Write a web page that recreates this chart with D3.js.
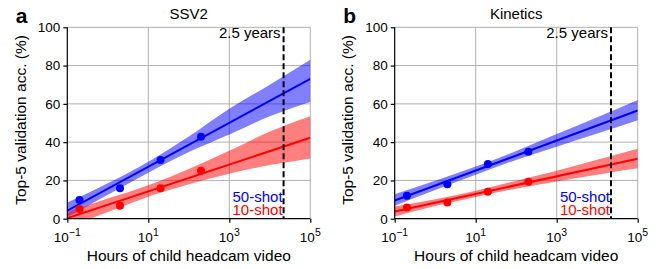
<!DOCTYPE html>
<html><head><meta charset="utf-8">
<script src="https://cdn.jsdelivr.net/npm/d3@7"></script>
<style>
body{margin:0;background:#fff}
text{font-family:"Liberation Sans",Arial,Helvetica,sans-serif}
</style></head>
<body><svg id="c" width="659" height="269"></svg>
<script>
// ---- data ----
const xHours = [0.2, 2, 20, 200];
const ssv2_50 = [9.8, 15.9, 30.7, 42.8];
const ssv2_10 = [5.1, 6.8, 15.9, 25.1];
const kin_50 = [12.0, 18.0, 28.6, 35.0];
const kin_10 = [5.9, 8.4, 14.1, 19.3];

const fitHours = [0.1, 1e5];
const ssv2_50_fit = [4.2, 73.0];
const ssv2_10_fit = [0.3, 42.3];
const kin_50_fit = [9.5, 56.5];
const kin_10_fit = [3.8, 31.3];

const bandHours = [0.1, 1, 10, 100, 1e3, 1e4, 1e5];
const ssv2_50_lo = [0.8, 12.5, 24.0, 34.8, 44.0, 53.5, 61.0];
const ssv2_50_hi = [8.4, 18.5, 29.8, 43.0, 57.5, 70.0, 83.0];
const ssv2_10_lo = [-4.5, 3.5, 11.5, 18.0, 23.5, 28.0, 31.5];
const ssv2_10_hi = [3.5, 10.5, 17.5, 26.0, 35.5, 45.5, 53.5];
const kin_50_lo = [6.8, 15.0, 23.0, 30.7, 37.6, 44.5, 51.5];
const kin_50_hi = [12.8, 19.8, 27.3, 35.4, 44.2, 53.0, 62.0];
const kin_10_lo = [1.2, 6.6, 11.4, 15.7, 19.5, 23.0, 26.3];
const kin_10_hi = [6.4, 10.2, 14.6, 19.8, 25.0, 30.8, 36.5];

const xTickExp = [-1, 1, 3, 5];
const yTicks = [0, 20, 40, 60, 80, 100];
const markerHours = 21900; // 2.5 years
const panelTitles = ["SSV2", "Kinetics"];
const panelLetters = ["a", "b"];
const seriesNames = ["50-shot", "10-shot"];

const panels = [
  {title: panelTitles[0], letter: panelLetters[0], left: 67.3,
   s: [{y: ssv2_50, fit: ssv2_50_fit, lo: ssv2_50_lo, hi: ssv2_50_hi, c: "#0000ff"},
       {y: ssv2_10, fit: ssv2_10_fit, lo: ssv2_10_lo, hi: ssv2_10_hi, c: "#ff0000"}]},
  {title: panelTitles[1], letter: panelLetters[1], left: 394.7,
   s: [{y: kin_50, fit: kin_50_fit, lo: kin_50_lo, hi: kin_50_hi, c: "#0000ff"},
       {y: kin_10, fit: kin_10_fit, lo: kin_10_lo, hi: kin_10_hi, c: "#ff0000"}]}
];

const svg = d3.select("#c");
const W = 243, plotTop = 27.3, plotBottom = 218.7;

panels.forEach((p, pi) => {
  const x = d3.scaleLog().domain([0.1, 1e5]).range([p.left, p.left + W]);
  const y = d3.scaleLinear().domain([0, 100]).range([plotBottom, plotTop]);
  const g = svg.append("g");
  const cid = "clip" + pi;
  svg.append("clipPath").attr("id", cid).append("rect")
    .attr("x", p.left).attr("y", plotTop).attr("width", W).attr("height", plotBottom - plotTop);

  // grid
  g.selectAll(".gy").data(yTicks.slice(1)).join("line")
    .attr("x1", p.left).attr("x2", p.left + W)
    .attr("y1", d => y(d)).attr("y2", d => y(d))
    .attr("stroke", "#b0b0b0").attr("stroke-width", 1);
  g.selectAll(".gx").data(xTickExp.slice(1)).join("line")
    .attr("x1", d => x(Math.pow(10, d))).attr("x2", d => x(Math.pow(10, d)))
    .attr("y1", plotTop).attr("y2", plotBottom)
    .attr("stroke", "#b0b0b0").attr("stroke-width", 1);

  const cg = g.append("g").attr("clip-path", `url(#${cid})`);
  p.s.forEach(s => {
    const area = d3.area().curve(d3.curveMonotoneX)
      .x((d, i) => x(bandHours[i])).y0((d, i) => y(s.lo[i])).y1((d, i) => y(s.hi[i]));
    cg.append("path").datum(bandHours).attr("d", area)
      .attr("fill", s.c).attr("fill-opacity", 0.5);
  });
  p.s.forEach(s => {
    cg.append("line")
      .attr("x1", x(fitHours[0])).attr("x2", x(fitHours[1]))
      .attr("y1", y(s.fit[0])).attr("y2", y(s.fit[1]))
      .attr("stroke", s.c).attr("stroke-width", 2);
    g.selectAll(null).data(s.y).join("circle")
      .attr("cx", (d, i) => x(xHours[i])).attr("cy", d => y(d))
      .attr("r", 4).attr("fill", s.c);
  });

  // dashed marker
  const mx = x(markerHours);
  g.append("line").attr("x1", mx).attr("x2", mx).attr("y1", plotTop).attr("y2", plotBottom)
    .attr("stroke", "#000").attr("stroke-width", 2).attr("stroke-dasharray", "6,3");
  g.append("text").attr("x", mx - 3).attr("y", 37.5).attr("text-anchor", "end")
    .attr("font-size", 15).text("2.5 years");

  // legend texts
  seriesNames.forEach((n, i) => {
    g.append("text").attr("x", mx - 1).attr("y", 201.7 + i * 13.3)
      .attr("text-anchor", "end").attr("font-size", 15)
      .attr("fill", p.s[i].c).text(n);
  });

  // axes
  const ya = d3.axisLeft(y).tickValues(yTicks).tickSize(4).tickPadding(3);
  const yg = g.append("g").attr("transform", `translate(${p.left},0)`).call(ya);
  yg.select(".domain").attr("stroke-width", 1.2).attr("d", `M0,${plotBottom}V${plotTop}`);
  yg.selectAll("line").attr("stroke-width", 1.2);
  yg.selectAll("text").attr("font-size", 13.5).attr("fill", "#000");

  const xa = d3.axisBottom(x).tickValues(xTickExp.map(e => Math.pow(10, e))).tickSize(4).tickFormat("");
  const xg = g.append("g").attr("transform", `translate(0,${plotBottom})`).call(xa);
  xg.select(".domain").attr("stroke-width", 1.2).attr("d", `M${p.left},0H${p.left + W}`);
  xg.selectAll("line").attr("stroke-width", 1.2);
  xTickExp.forEach(e => {
    const t = g.append("text").attr("x", x(Math.pow(10, e))).attr("y", 241.5)
      .attr("text-anchor", "middle").attr("font-size", 13.5);
    t.append("tspan").text("10");
    t.append("tspan").attr("dy", -5.5).attr("font-size", 10.5).text(e < 0 ? "\u2212" + (-e) : String(e));
  });

  // labels
  g.append("text").attr("x", p.left + W / 2).attr("y", 260.5).attr("text-anchor", "middle")
    .attr("font-size", 15.5).text("Hours of child headcam video");
  g.append("text").attr("transform", `translate(${p.left - 41.5},${(plotTop + plotBottom) / 2 - 3}) rotate(-90)`)
    .attr("text-anchor", "middle").attr("font-size", 15.5).text("Top-5 validation acc. (%)");
  g.append("text").attr("x", p.left + W / 2).attr("y", 19.3).attr("text-anchor", "middle")
    .attr("font-size", 15).text(p.title);
  g.append("text").attr("x", p.left - 51.5).attr("y", 22.5)
    .attr("font-size", 21).attr("font-weight", "bold").text(p.letter);
});
</script></body></html>
